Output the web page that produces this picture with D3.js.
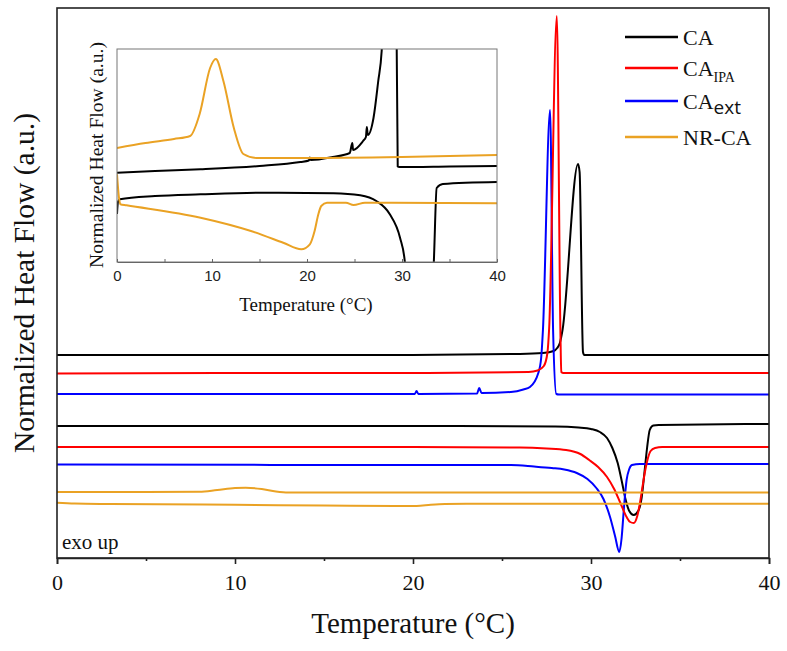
<!DOCTYPE html>
<html>
<head>
<meta charset="utf-8">
<script src="https://cdn.jsdelivr.net/npm/d3@7"></script>
<style>
  body { margin: 0; background: #fff; }
  svg { display: block; }
</style>
</head>
<body>
<div id="chart"></div>
<script>
// ---- data (temperature in °C, normalized heat flow in a.u. incl. vertical offsets) ----
const xTicks = [0, 10, 20, 30, 40];
const xMinorTicks = [5, 15, 25, 35];

// main plot, upper group (exothermic peaks)
const caUpper = [[0,20.3],[10,20.3],[20,20.3],[26,20.4],[27.3,20.5],[27.9,20.7],[28.1,21.0],[28.25,21.5],[28.4,22.8],[29.27,39.4],[29.36,38.6],[29.55,20.6],[29.62,20.3],[40,20.3]];
const caIpaUpper = [[0,18.45],[9,18.5],[20,18.5],[26.5,18.6],[27.0,18.75],[27.35,19.2],[27.55,20.5],[27.65,23],[28.08,54.2],[28.28,22.8],[28.33,18.6],[28.45,18.5],[40,18.5]];
const caExtUpper = [[0,16.4],[10,16.4],[20.1,16.4],[20.2,16.7],[20.3,16.4],[23.6,16.45],[23.72,17.0],[23.85,16.5],[25.5,16.6],[26.2,16.85],[26.57,17.1],[27.04,18.5],[27.2,20.0],[27.3,22.8],[27.7,44.8],[27.87,22.8],[28.05,16.4],[28.2,16.35],[40,16.35]];

// main plot, lower group (endothermic dips)
const caLower = [[0,13.2],[10,13.2],[20,13.2],[28,13.15],[29.3,13.05],[30.0,12.9],[30.5,12.6],[30.9,12.0],[31.2,11.0],[31.5,9.5],[31.75,7.5],[31.95,5.8],[32.15,4.7],[32.4,4.3],[32.65,4.7],[32.85,6.1],[33.0,8.5],[33.15,11.0],[33.3,12.8],[33.5,13.25],[33.8,13.3],[40,13.4]];
const caIpaLower = [[0,11.1],[20,11.1],[26,11.05],[27.5,10.95],[28.6,10.8],[29.4,10.4],[29.9,9.8],[30.4,9.1],[30.9,8.1],[31.3,6.9],[31.65,5.5],[32.0,4.1],[32.2,3.6],[32.4,3.5],[32.6,4.2],[32.75,5.5],[32.9,7.2],[33.05,8.8],[33.2,10.0],[33.35,10.7],[33.6,11.0],[34,11.1],[40,11.1]];
const caExtLower = [[0,9.35],[20,9.3],[25.5,9.3],[26.8,9.15],[27.8,9.0],[28.5,8.85],[29.2,8.5],[29.8,7.9],[30.3,7.0],[30.7,5.9],[31.07,4.1],[31.35,2.2],[31.59,0.6],[31.72,2.0],[31.85,5.0],[32.0,7.8],[32.15,8.9],[32.3,9.3],[32.75,9.4],[40,9.4]];
const nrUpper = [[0,6.6],[5,6.6],[8,6.62],[9,6.8],[10,7.0],[10.6,7.03],[11.5,6.9],[12.3,6.65],[13,6.55],[20,6.55],[40,6.55]];
const nrLower = [[0,5.53],[1,5.45],[3,5.4],[10,5.32],[15,5.25],[19,5.2],[20.2,5.2],[21.0,5.32],[21.8,5.4],[23,5.43],[40,5.43]];

// inset (zoomed CA and NR-CA)
const insetCaUpper = [[0,8.93],[4,9.1],[8.8,9.27],[15,9.6],[19.3,10.0],[20.2,10.15],[20.3,10.45],[20.4,10.2],[22.7,10.5],[24.5,10.9],[24.77,11.9],[24.85,11.2],[25.9,12.1],[26.2,12.5],[26.3,13.5],[26.4,12.7],[27.0,14.4],[27.5,18.1],[27.86,21.1],[28.1,26],[29.4,26],[29.55,9.55],[29.7,9.5],[35,9.55],[40,9.6]];
const insetCaLower = [[0,4.8],[0.1,6.0],[0.3,6.27],[4,6.6],[8.8,6.77],[15.8,6.93],[22.8,6.87],[25.6,6.67],[27.3,6.1],[28.7,4.8],[29.8,2.4],[30.3,0],[30.5,-3],[33.2,-3],[33.35,0],[33.65,7.4],[34.3,7.8],[40,8.0]];
const insetNrUpper = [[0,11.4],[3,11.9],[6,12.3],[7.7,12.6],[8.7,14.8],[9.8,19.4],[10.4,20.3],[11.2,18.1],[12.3,13.4],[13.3,10.8],[14.7,10.4],[20,10.4],[30,10.5],[40,10.7]];
const insetNrLower = [[0,8.77],[0.2,6.5],[0.35,5.77],[1,5.67],[8.8,4.43],[14.1,3.1],[17.5,1.93],[19.4,1.27],[20.3,1.77],[20.8,3.1],[21.2,4.8],[21.5,5.6],[22.1,5.93],[24.1,5.93],[24.9,5.7],[26.1,5.93],[40,5.87]];

const colors = { CA: "#000000", IPA: "#ff0000", ext: "#0000ff", NR: "#eaa224" };

const mainSeries = [
  { data: caUpper, color: colors.CA },
  { data: caLower, color: colors.CA },
  { data: caExtUpper, color: colors.ext },
  { data: caExtLower, color: colors.ext },
  { data: caIpaUpper, color: colors.IPA },
  { data: caIpaLower, color: colors.IPA },
  { data: nrUpper, color: colors.NR },
  { data: nrLower, color: colors.NR }
];
const insetSeries = [
  { data: insetCaUpper, color: colors.CA },
  { data: insetCaLower, color: colors.CA },
  { data: insetNrUpper, color: colors.NR },
  { data: insetNrLower, color: colors.NR }
];
const legendItems = [
  { name: "CA", sub: null, color: colors.CA },
  { name: "CA", sub: "IPA", color: colors.IPA },
  { name: "CA", sub: "ext", color: colors.ext },
  { name: "NR-CA", sub: null, color: colors.NR }
];

// ---- layout ----
const W = 787, H = 651;
const plot = { left: 57, top: 8, right: 769, bottom: 558 };
const inset = { left: 117, top: 49, right: 497, bottom: 262 };
const serif = "'Liberation Serif', 'Times New Roman', serif";
const sans = "'Liberation Sans', Arial, sans-serif";

const svg = d3.select("#chart").append("svg")
  .attr("width", W).attr("height", H);

const defs = svg.append("defs");
defs.append("clipPath").attr("id", "clipMain").append("rect")
  .attr("x", plot.left).attr("y", plot.top)
  .attr("width", plot.right - plot.left).attr("height", plot.bottom - plot.top);
defs.append("clipPath").attr("id", "clipInset").append("rect")
  .attr("x", inset.left).attr("y", inset.top)
  .attr("width", inset.right - inset.left).attr("height", inset.bottom - inset.top);

// main scales
const xScale = d3.scaleLinear().domain([0, 40]).range([plot.left, plot.right]);
const yScale = d3.scaleLinear().domain([0, 55]).range([plot.bottom, plot.top]);

const mainLine = d3.line()
  .x(d => xScale(d[0])).y(d => yScale(d[1]))
  .curve(d3.curveMonotoneX);

svg.append("g").attr("clip-path", "url(#clipMain)")
  .selectAll("path").data(mainSeries).join("path")
  .attr("d", d => mainLine(d.data))
  .attr("fill", "none")
  .attr("stroke", d => d.color)
  .attr("stroke-width", 2)
  .attr("stroke-linejoin", "round");

// frame
svg.append("rect")
  .attr("x", plot.left).attr("y", plot.top)
  .attr("width", plot.right - plot.left).attr("height", plot.bottom - plot.top)
  .attr("fill", "none").attr("stroke", "#222").attr("stroke-width", 1.6);

// x axis
const xAxisG = svg.append("g").attr("transform", "translate(0," + plot.bottom + ")");
xAxisG.call(d3.axisBottom(xScale).tickValues(xTicks).tickSize(6).tickPadding(10).tickFormat(d3.format("d")));
xAxisG.append("g").call(d3.axisBottom(xScale).tickValues(xMinorTicks).tickSize(3).tickFormat(""))
  .select(".domain").remove();
xAxisG.selectAll(".domain").attr("stroke", "#222").attr("stroke-width", 1.6);
xAxisG.selectAll(".tick line").attr("stroke", "#222").attr("stroke-width", 1.6);
xAxisG.selectAll(".tick text")
  .attr("font-family", serif).attr("font-size", 22).attr("fill", "#111");

svg.append("text")
  .attr("x", (plot.left + plot.right) / 2 + 0).attr("y", 633)
  .attr("text-anchor", "middle")
  .attr("font-family", serif).attr("font-size", 29).attr("fill", "#111")
  .text("Temperature (°C)");

svg.append("text")
  .attr("transform", "translate(34,283) rotate(-90)")
  .attr("text-anchor", "middle")
  .attr("font-family", serif).attr("font-size", 30).attr("fill", "#111")
  .attr("textLength", 340).attr("lengthAdjust", "spacingAndGlyphs")
  .text("Normalized Heat Flow (a.u.)");

svg.append("text")
  .attr("x", 62).attr("y", 549)
  .attr("font-family", serif).attr("font-size", 21).attr("fill", "#111")
  .text("exo up");

// legend
const legend = svg.append("g");
legendItems.forEach((item, i) => {
  const yRow = [37, 68, 101, 137][i];
  legend.append("line")
    .attr("x1", 625).attr("x2", 678).attr("y1", yRow).attr("y2", yRow)
    .attr("stroke", item.color).attr("stroke-width", 2.5);
  const t = legend.append("text")
    .attr("x", 683).attr("y", yRow + 8)
    .attr("font-family", serif).attr("font-size", 22).attr("fill", "#111");
  t.append("tspan").text(item.name);
  if (item.sub === "IPA") {
    t.append("tspan").attr("dy", 6).attr("font-size", 14).text("IPA");
  } else if (item.sub === "ext") {
    t.append("tspan").attr("dy", 5).attr("font-family", "'Open Sans', sans-serif").attr("font-size", 19).text("ext");
  }
});

// ---- inset ----
const ixScale = d3.scaleLinear().domain([0, 40]).range([inset.left, inset.right]);
const iyScale = d3.scaleLinear().domain([0, 21.3]).range([inset.bottom, inset.top]);

svg.append("rect")
  .attr("x", inset.left).attr("y", inset.top)
  .attr("width", inset.right - inset.left).attr("height", inset.bottom - inset.top)
  .attr("fill", "#fff");

const insetLine = d3.line()
  .x(d => ixScale(d[0])).y(d => iyScale(d[1]))
  .curve(d3.curveMonotoneX);

svg.append("g").attr("clip-path", "url(#clipInset)")
  .selectAll("path").data(insetSeries).join("path")
  .attr("d", d => insetLine(d.data))
  .attr("fill", "none")
  .attr("stroke", d => d.color)
  .attr("stroke-width", 2)
  .attr("stroke-linejoin", "round");

svg.append("rect")
  .attr("x", inset.left).attr("y", inset.top)
  .attr("width", inset.right - inset.left).attr("height", inset.bottom - inset.top)
  .attr("fill", "none").attr("stroke", "#777").attr("stroke-width", 1);

const ixAxisG = svg.append("g").attr("transform", "translate(0," + inset.bottom + ")");
ixAxisG.call(d3.axisBottom(ixScale).tickValues(xTicks).tickSizeInner(-3).tickSizeOuter(0).tickPadding(8).tickFormat(d3.format("d")));
ixAxisG.append("g").call(d3.axisBottom(ixScale).tickValues(xMinorTicks).tickSizeInner(-3).tickSizeOuter(0).tickFormat(""))
  .select(".domain").remove();
ixAxisG.selectAll(".domain").attr("stroke", "#666");
ixAxisG.selectAll(".tick line").attr("stroke", "#666");
ixAxisG.selectAll(".tick text")
  .attr("font-family", sans).attr("font-size", 15).attr("fill", "#222");

svg.append("text")
  .attr("x", 306).attr("y", 311)
  .attr("text-anchor", "middle")
  .attr("font-family", serif).attr("font-size", 19).attr("fill", "#111")
  .text("Temperature (°C)");

svg.append("text")
  .attr("transform", "translate(103,155) rotate(-90)")
  .attr("text-anchor", "middle")
  .attr("font-family", serif).attr("font-size", 19).attr("fill", "#111")
  .attr("textLength", 226).attr("lengthAdjust", "spacingAndGlyphs")
  .text("Normalized Heat Flow (a.u.)");
</script>
</body>
</html>
